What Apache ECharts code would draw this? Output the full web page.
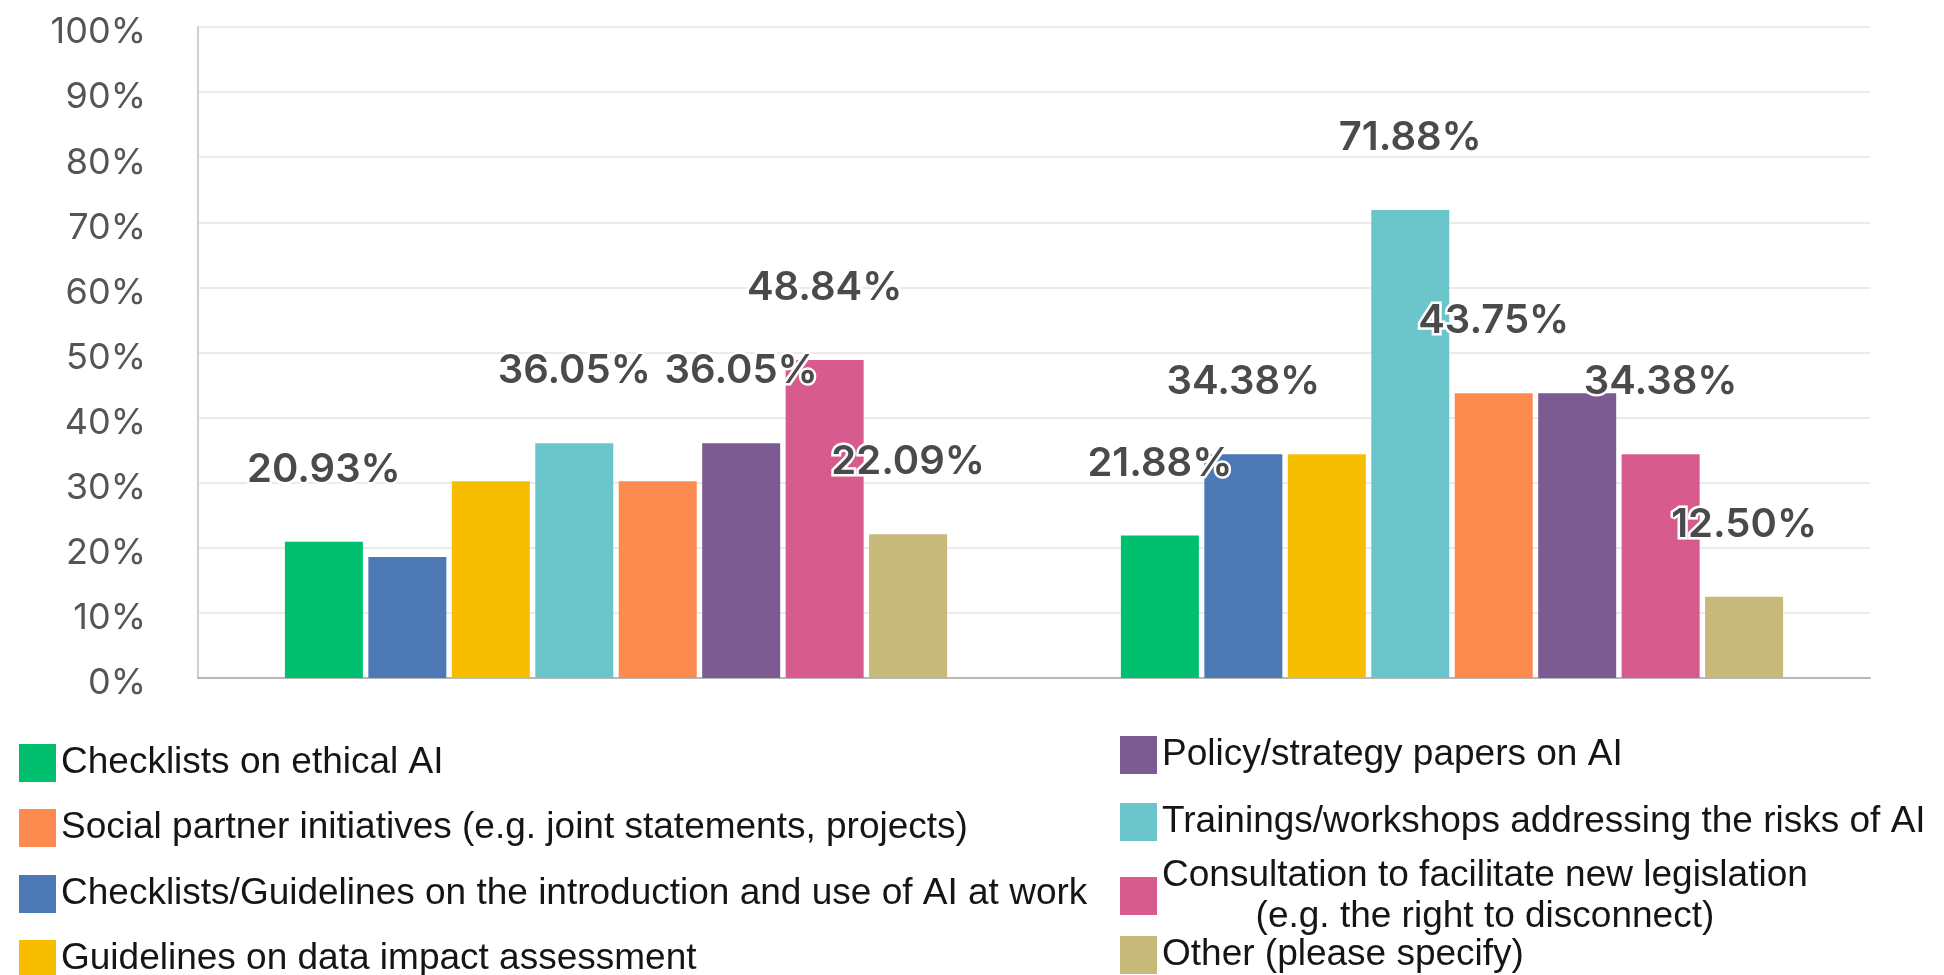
<!DOCTYPE html>
<html>
<head>
<meta charset="utf-8">
<script src="https://cdn.jsdelivr.net/npm/echarts@6/dist/echarts.min.js"></script>
<style>
  html, body { margin: 0; padding: 0; background: #fff; }
  #chart { width: 1944px; height: 975px; }
</style>
</head>
<body>
<div id="chart"></div>
<script>
// two respondent groups (no axis labels in the source)
const groups = ['Group 1', 'Group 2'];

// values in %, one array per measure, order = bar order inside a group
const ethicalChecklists = [20.93, 21.88];
const introGuidelines = [18.60, 34.38];
const dataImpactGuidelines = [30.23, 34.38];
const trainings = [36.05, 71.88];
const socialPartner = [30.23, 43.75];
const policyPapers = [36.05, 43.75];
const consultation = [48.84, 34.38];
const other = [22.09, 12.50];

// which bars carry a value label in the source
const labelShown = {
  ethicalChecklists: [true, true],
  introGuidelines: [false, true],
  dataImpactGuidelines: [false, false],
  trainings: [true, true],
  socialPartner: [false, true],
  policyPapers: [true, false],
  consultation: [true, true],
  other: [true, true]
};

const yTicks = [0, 10, 20, 30, 40, 50, 60, 70, 80, 90, 100];

const seriesDefs = [
  { key: 'ethicalChecklists', name: 'Checklists on ethical AI', values: ethicalChecklists, color: '#00bf6f' },
  { key: 'introGuidelines', name: 'Checklists/Guidelines on the introduction and use of AI at work', values: introGuidelines, color: '#4c79b6' },
  { key: 'dataImpactGuidelines', name: 'Guidelines on data impact assessment', values: dataImpactGuidelines, color: '#f7be00' },
  { key: 'trainings', name: 'Trainings/workshops addressing the risks of AI', values: trainings, color: '#6bc6cb' },
  { key: 'socialPartner', name: 'Social partner initiatives (e.g. joint statements, projects)', values: socialPartner, color: '#fd8a4e' },
  { key: 'policyPapers', name: 'Policy/strategy papers on AI', values: policyPapers, color: '#7b5b91' },
  { key: 'consultation', name: 'Consultation to facilitate new legislation (e.g. the right to disconnect)', values: consultation, color: '#d75b8c' },
  { key: 'other', name: 'Other (please specify)', values: other, color: '#c6b97a' }
];

// legend columns as laid out under the chart
const legendLeftCol = [
  'Checklists on ethical AI',
  'Social partner initiatives (e.g. joint statements, projects)',
  'Checklists/Guidelines on the introduction and use of AI at work',
  'Guidelines on data impact assessment'
];
const legendRightCol = [
  'Policy/strategy papers on AI',
  'Trainings/workshops addressing the risks of AI',
  'Consultation to facilitate new legislation (e.g. the right to disconnect)',
  'Other (please specify)'
];
const leftColTops = [744, 809, 875, 940];
const rightColTops = [736, 803, 857, 936];

const legendText = {
  fontFamily: 'Liberation Sans',
  fontSize: 37,
  color: '#151515',
  rich: {
    a: { fontFamily: 'Liberation Sans', fontSize: 37, lineHeight: 41, color: '#151515' },
    b: { fontFamily: 'Liberation Sans', fontSize: 37, lineHeight: 41, color: '#151515', align: 'center' }
  }
};

function legendFormatter(name) {
  if (name.indexOf('Consultation') === 0) {
    return '{a|Consultation to facilitate new legislation}\n{b|(e.g. the right to disconnect)}';
  }
  return name;
}

function makeLegend(name, left, top) {
  return {
    left: left,
    top: top,
    orient: 'vertical',
    icon: 'rect',
    itemWidth: 37,
    itemHeight: 38,
    padding: 0,
    selectedMode: false,
    data: [name],
    formatter: legendFormatter,
    textStyle: legendText
  };
}

const legends = [];
legendLeftCol.forEach(function (name, i) { legends.push(makeLegend(name, 19, leftColTops[i])); });
legendRightCol.forEach(function (name, i) { legends.push(makeLegend(name, 1120, rightColTops[i])); });

const myChart = echarts.init(document.getElementById('chart'));

const option = {
  backgroundColor: '#fff',
  animation: false,
  legend: legends,
  grid: { left: 198, right: 74, top: 27, bottom: 297 },
  xAxis: {
    type: 'category',
    data: groups,
    axisLabel: { show: false },
    axisTick: { show: false },
    axisLine: { lineStyle: { color: '#b8b8b8', width: 2 } }
  },
  yAxis: {
    type: 'value',
    min: yTicks[0],
    max: yTicks[yTicks.length - 1],
    interval: 10,
    axisLine: { show: true, lineStyle: { color: '#cfcfcf', width: 2 } },
    axisTick: { show: false },
    splitLine: { lineStyle: { color: '#ebebeb', width: 2 } },
    axisLabel: {
      formatter: '{v|{value}%}',
      margin: 52,
      rich: {
        v: {
          fontFamily: 'Inter',
          fontSize: 36,
          color: '#555',
          padding: [11, 0, 0, 0]
        }
      }
    }
  },
  series: seriesDefs.map(function (s) {
    return {
      name: s.name,
      type: 'bar',
      barWidth: 78,
      barGap: '7%',
      itemStyle: { color: s.color },
      label: {
        position: 'top',
        distance: 52,
        fontFamily: 'Inter',
        fontWeight: 600,
        fontSize: 40,
        color: '#4a4a4a',
        textBorderColor: '#fff',
        textBorderWidth: 5,
        formatter: function (p) { return p.value.toFixed(2) + '%'; }
      },
      data: s.values.map(function (v, i) {
        return { value: v, label: { show: labelShown[s.key][i] } };
      })
    };
  })
};

myChart.setOption(option);
</script>
</body>
</html>
